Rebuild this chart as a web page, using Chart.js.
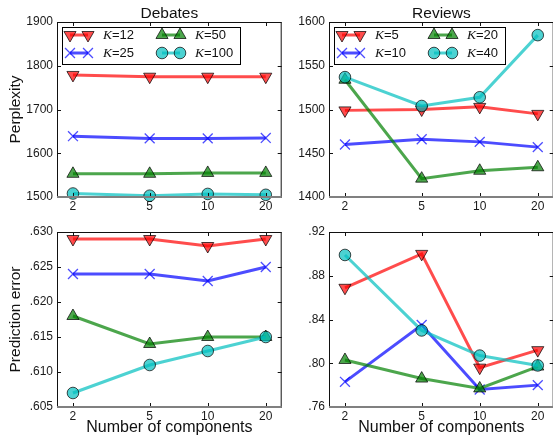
<!DOCTYPE html>
<html>
<head>
<meta charset="utf-8">
<script src="https://cdn.jsdelivr.net/npm/chart.js@4.4.1/dist/chart.umd.min.js"></script>
<style>
  html, body { margin: 0; padding: 0; background: #fff; overflow: hidden; width: 553px; height: 436px; }
  .panel { position: absolute; }
</style>
</head>
<body>
<div class="panel" style="left:0;top:0;width:290px;height:218px"><canvas id="c-tl"></canvas></div>
<div class="panel" style="left:272px;top:0;width:290px;height:218px"><canvas id="c-tr"></canvas></div>
<div class="panel" style="left:0;top:210px;width:290px;height:226px"><canvas id="c-bl"></canvas></div>
<div class="panel" style="left:272px;top:210px;width:290px;height:226px"><canvas id="c-br"></canvas></div>
<script>
// number of mixture components (x axis, log scale)
var components = [2, 5, 10, 20];
var componentLabels = ["2", "5", "10", "20"];

var debatesK = ["12", "25", "50", "100"];
var reviewsK = ["5", "10", "20", "40"];

// one row per K, one value per component count
var debatesPerplexity = [
  [1779, 1775, 1775, 1775],
  [1639, 1634, 1634, 1635],
  [1553, 1553, 1555, 1555],
  [1508, 1503, 1507, 1505]
];
var reviewsPerplexity = [
  [1499, 1500, 1503, 1495],
  [1460, 1466, 1463, 1457],
  [1534, 1421, 1430, 1434],
  [1537, 1504, 1514, 1585]
];
var debatesError = [
  [0.629, 0.629, 0.628, 0.629],
  [0.624, 0.624, 0.623, 0.625],
  [0.618, 0.614, 0.615, 0.615],
  [0.607, 0.611, 0.613, 0.615]
];
var reviewsError = [
  [0.869, 0.900, 0.796, 0.812],
  [0.783, 0.835, 0.776, 0.780],
  [0.803, 0.786, 0.777, 0.797],
  [0.899, 0.830, 0.807, 0.798]
];

var debatesPerplexityTicks = [1500, 1600, 1700, 1800, 1900];
var debatesPerplexityLabels = ["1500", "1600", "1700", "1800", "1900"];
var reviewsPerplexityTicks = [1400, 1450, 1500, 1550, 1600];
var reviewsPerplexityLabels = ["1400", "1450", "1500", "1550", "1600"];
var debatesErrorTicks = [0.605, 0.610, 0.615, 0.620, 0.625, 0.630];
var debatesErrorLabels = [".605", ".610", ".615", ".620", ".625", ".630"];
var reviewsErrorTicks = [0.76, 0.80, 0.84, 0.88, 0.92];
var reviewsErrorLabels = [".76", ".80", ".84", ".88", ".92"];

Chart.defaults.font.family = '"Liberation Sans", Arial, Helvetica, sans-serif';
Chart.defaults.color = "#1a1a1a";

var seriesLine = ["rgba(255,0,0,0.7)", "rgba(0,0,255,0.7)", "rgba(0,128,0,0.7)", "rgba(0,191,191,0.7)"];
var seriesEdge = ["rgba(0,0,0,0.7)", "rgba(0,0,255,0.7)", "rgba(0,0,0,0.7)", "rgba(0,0,0,0.7)"];
var seriesMarker = ["triangle", "crossRot", "triangle", "circle"];
var seriesRotation = [180, 0, 0, 0];
var seriesRadius = [7, 7, 7, 5.8];

function drawMarker(ctx, i, x, y) {
  var r = seriesRadius[i];
  ctx.save();
  ctx.fillStyle = seriesLine[i];
  ctx.strokeStyle = seriesEdge[i];
  ctx.lineWidth = i === 1 ? 1.3 : 1;
  ctx.beginPath();
  if (seriesMarker[i] === "circle") {
    ctx.arc(x, y, r, 0, Math.PI * 2);
    ctx.fill(); ctx.stroke();
  } else if (seriesMarker[i] === "triangle") {
    var rad = seriesRotation[i] * Math.PI / 180;
    for (var k = 0; k < 3; k++) {
      var a = rad + k * 2 * Math.PI / 3;
      var px = x + Math.sin(a) * r, py = y - Math.cos(a) * r;
      if (k === 0) ctx.moveTo(px, py); else ctx.lineTo(px, py);
    }
    ctx.closePath();
    ctx.fill(); ctx.stroke();
  } else {
    var d = r * Math.SQRT1_2;
    ctx.moveTo(x - d, y - d); ctx.lineTo(x + d, y + d);
    ctx.moveTo(x + d, y - d); ctx.lineTo(x - d, y + d);
    ctx.stroke();
  }
  ctx.restore();
}

function buildDatasets(rows, kLabels) {
  return rows.map(function (vals, i) {
    return {
      label: "K=" + kLabels[i],
      data: components.map(function (c, j) { return { x: c, y: vals[j] }; }),
      borderColor: seriesLine[i],
      borderWidth: 3,
      pointStyle: seriesMarker[i],
      pointRotation: seriesRotation[i],
      pointRadius: seriesRadius[i],
      pointBackgroundColor: seriesLine[i],
      pointBorderColor: seriesEdge[i],
      pointBorderWidth: i === 1 ? 1.3 : 1,
      fill: false,
      tension: 0,
      clip: false,
      order: rows.length - i
    };
  });
}

// matplotlib-like frame with inward ticks
var framePlugin = {
  id: "panelFrame",
  afterDatasetsDraw: function (chart) {
    var a = chart.chartArea, ctx = chart.ctx;
    var xs = chart.scales.x, ys = chart.scales.y;
    ctx.save();
    ctx.strokeStyle = "#111";
    ctx.lineWidth = 1;
    ctx.beginPath();
    xs.ticks.forEach(function (t) {
      var x = Math.round(xs.getPixelForValue(t.value)) + 0.5;
      ctx.moveTo(x, a.bottom); ctx.lineTo(x, a.bottom - 4);
      ctx.moveTo(x, a.top); ctx.lineTo(x, a.top + 4);
    });
    ys.ticks.forEach(function (t) {
      var y = Math.round(ys.getPixelForValue(t.value)) + 0.5;
      ctx.moveTo(a.left, y); ctx.lineTo(a.left + 4, y);
      ctx.moveTo(a.right, y); ctx.lineTo(a.right - 4, y);
    });
    ctx.stroke();
    ctx.beginPath();
    ctx.moveTo(a.left + 0.5, a.bottom); ctx.lineTo(a.left + 0.5, a.top + 0.5);
    ctx.lineTo(a.right - 0.5, a.top + 0.5); ctx.lineTo(a.right - 0.5, a.bottom);
    ctx.stroke();
    ctx.strokeStyle = "#808080";
    ctx.lineWidth = 2;
    ctx.beginPath();
    ctx.moveTo(a.left, a.bottom); ctx.lineTo(a.right, a.bottom);
    ctx.stroke();
    ctx.restore();
  }
};

var panelTitlePlugin = {
  id: "panelTitle",
  afterDraw: function (chart, args, opts) {
    if (!opts || !opts.text) return;
    var a = chart.chartArea, ctx = chart.ctx;
    ctx.save();
    ctx.font = '15.5px "Liberation Sans", Arial, sans-serif';
    ctx.fillStyle = "#111";
    ctx.textAlign = "center";
    ctx.textBaseline = "middle";
    ctx.fillText(opts.text, (a.left + a.right) / 2, a.top - 8);
    ctx.restore();
  }
};

var kLegendPlugin = {
  id: "kLegend",
  afterDraw: function (chart, args, opts) {
    if (!opts || !opts.labels) return;
    var a = chart.chartArea, ctx = chart.ctx;
    var sans = '13px "Liberation Sans", Arial, sans-serif';
    var serif = 'italic 13.5px "Liberation Serif", "DejaVu Serif", serif';
    ctx.save();
    function textWidth(lbl) {
      ctx.font = serif; var w = ctx.measureText("K").width;
      ctx.font = sans; return w + ctx.measureText("=" + lbl).width;
    }
    var colX = [a.left + 13, a.left + 105];
    var rowY = [a.top + 13, a.top + 31];
    var maxW = Math.max(textWidth(opts.labels[2]), textWidth(opts.labels[3]));
    var boxL = a.left + 5, boxT = a.top + 5;
    var boxR = colX[1] + 32 + maxW + 8, boxB = a.top + 42;
    ctx.fillStyle = "#fff";
    ctx.fillRect(boxL, boxT, boxR - boxL, boxB - boxT);
    ctx.strokeStyle = "#000";
    ctx.lineWidth = 1;
    ctx.strokeRect(Math.round(boxL) + 0.5, Math.round(boxT) + 0.5, Math.round(boxR - boxL), Math.round(boxB - boxT));
    opts.labels.forEach(function (lbl, i) {
      var cx = colX[Math.floor(i / 2)], cy = rowY[i % 2];
      ctx.strokeStyle = seriesLine[i];
      ctx.lineWidth = 3;
      ctx.beginPath(); ctx.moveTo(cx, cy); ctx.lineTo(cx + 18, cy); ctx.stroke();
      drawMarker(ctx, i, cx, cy);
      drawMarker(ctx, i, cx + 18, cy);
      var tx = cx + 33;
      ctx.fillStyle = "#111";
      ctx.textBaseline = "middle";
      ctx.textAlign = "left";
      ctx.font = serif;
      ctx.fillText("K", tx, cy);
      tx += ctx.measureText("K").width;
      ctx.font = sans;
      ctx.fillText("=" + lbl, tx, cy);
    });
    ctx.restore();
  }
};

function xScale(showTitle) {
  return {
    type: "logarithmic",
    min: 1.653,
    max: 24.19,
    afterBuildTicks: function (s) { s.ticks = components.map(function (v) { return { value: v }; }); },
    afterFit: function (s) { s.height = showTitle ? 29 : 21; },
    grid: { display: false, drawTicks: false },
    border: { display: false },
    ticks: {
      autoSkip: false, maxRotation: 0, padding: 2, color: "#1a1a1a", font: { size: 12 },
      callback: function (v, idx) { return componentLabels[idx]; }
    },
    title: {
      display: showTitle, text: "Number of components", color: "#111",
      font: { size: 16, lineHeight: 1 }, padding: { top: 0, bottom: 0 }
    }
  };
}

function yScale(ticks, labels, title) {
  return {
    type: "linear",
    min: ticks[0],
    max: ticks[ticks.length - 1],
    afterBuildTicks: function (s) { s.ticks = ticks.map(function (v) { return { value: v }; }); },
    afterFit: function (s) { s.width = 57; },
    grid: { display: false, drawTicks: false },
    border: { display: false },
    ticks: {
      padding: 4, color: "#1a1a1a", font: { size: 12 },
      callback: function (v, idx) { return labels[idx]; }
    },
    title: {
      display: !!title, text: title || "", color: "#111",
      font: { size: 15.5, lineHeight: 1.2 }, padding: { top: 6, bottom: 0 }
    }
  };
}

function makePanel(id, rows, kLabels, yTicks, yLabels, opts) {
  return new Chart(document.getElementById(id), {
    type: "line",
    data: { datasets: buildDatasets(rows, kLabels) },
    options: {
      responsive: true,
      maintainAspectRatio: false,
      animation: false,
      events: [],
      layout: { padding: { top: 22, right: 7, left: 0, bottom: 0 } },
      plugins: {
        legend: { display: false },
        tooltip: { enabled: false },
        panelTitle: { text: opts.title || "" },
        kLegend: { labels: opts.legend ? kLabels : null }
      },
      scales: {
        x: xScale(!!opts.xTitle),
        y: yScale(yTicks, yLabels, opts.yTitle)
      }
    },
    plugins: [framePlugin, panelTitlePlugin, kLegendPlugin]
  });
}

makePanel("c-tl", debatesPerplexity, debatesK, debatesPerplexityTicks, debatesPerplexityLabels,
  { title: "Debates", legend: true, yTitle: "Perplexity" });
makePanel("c-tr", reviewsPerplexity, reviewsK, reviewsPerplexityTicks, reviewsPerplexityLabels,
  { title: "Reviews", legend: true });
makePanel("c-bl", debatesError, debatesK, debatesErrorTicks, debatesErrorLabels,
  { yTitle: "Prediction error", xTitle: true });
makePanel("c-br", reviewsError, reviewsK, reviewsErrorTicks, reviewsErrorLabels,
  { xTitle: true });
</script>
</body>
</html>
